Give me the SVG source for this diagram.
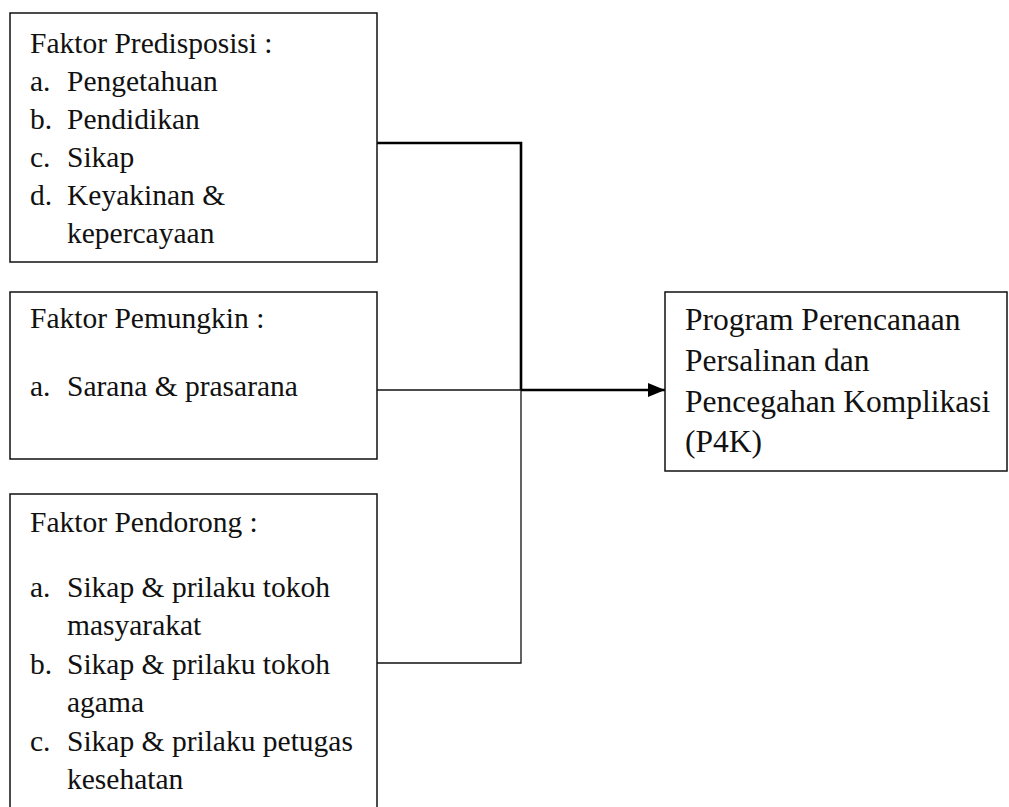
<svg xmlns="http://www.w3.org/2000/svg" width="1009" height="807" viewBox="0 0 1009 807">
<style>
.box{fill:#fff;stroke:#111;stroke-width:1.5}
text{font-family:"Liberation Serif","Times New Roman",serif;fill:#111}
.t{font-size:29.5px}
.t4{font-size:31.5px}
.thin{stroke:#111;stroke-width:1.3;fill:none}
.thick{stroke:#000;stroke-width:2.6;fill:none}
</style>
<defs>
<marker id="ah" markerUnits="userSpaceOnUse" markerWidth="18" markerHeight="16" refX="17" refY="8" orient="auto">
<path d="M0,1 L17,8 L0,15 Z" fill="#000"/>
</marker>
</defs>
<rect width="1009" height="807" fill="#fff"/>
<g id="connectors">
<path class="thick" d="M377,143 H521 V390"/>
<path class="thin" d="M377,390 H521"/>
<path class="thin" d="M521,390 V663 H377"/>
<path class="thick" d="M521,390 H665" marker-end="url(#ah)"/>
</g>
<g id="predisposisi">
<rect class="box" x="10" y="13" width="367" height="249"/>
<text class="t" x="30" y="53">Faktor Predisposisi :</text>
<text class="t" x="30" y="91">a.</text><text class="t" x="67" y="91">Pengetahuan</text>
<text class="t" x="30" y="129">b.</text><text class="t" x="67" y="129">Pendidikan</text>
<text class="t" x="30" y="167">c.</text><text class="t" x="67" y="167">Sikap</text>
<text class="t" x="30" y="205">d.</text><text class="t" x="67" y="205">Keyakinan &amp;</text>
<text class="t" x="67" y="243">kepercayaan</text>
</g>
<g id="pemungkin">
<rect class="box" x="10" y="292" width="367" height="167"/>
<text class="t" x="30" y="328">Faktor Pemungkin :</text>
<text class="t" x="30" y="396">a.</text><text class="t" x="67" y="396">Sarana &amp; prasarana</text>
</g>
<g id="pendorong">
<rect class="box" x="10" y="494" width="367" height="330"/>
<text class="t" x="30" y="532">Faktor Pendorong :</text>
<text class="t" x="30" y="597">a.</text><text class="t" x="67" y="597">Sikap &amp; prilaku tokoh</text>
<text class="t" x="67" y="635">masyarakat</text>
<text class="t" x="30" y="674">b.</text><text class="t" x="67" y="674">Sikap &amp; prilaku tokoh</text>
<text class="t" x="67" y="712">agama</text>
<text class="t" x="30" y="751">c.</text><text class="t" x="67" y="751">Sikap &amp; prilaku petugas</text>
<text class="t" x="67" y="789">kesehatan</text>
</g>
<g id="p4k">
<rect class="box" x="665" y="292" width="342" height="179"/>
<text class="t4" x="685" y="330">Program Perencanaan</text>
<text class="t4" x="685" y="371">Persalinan dan</text>
<text class="t4" x="685" y="412">Pencegahan Komplikasi</text>
<text class="t4" x="685" y="452">(P4K)</text>
</g>
</svg>
